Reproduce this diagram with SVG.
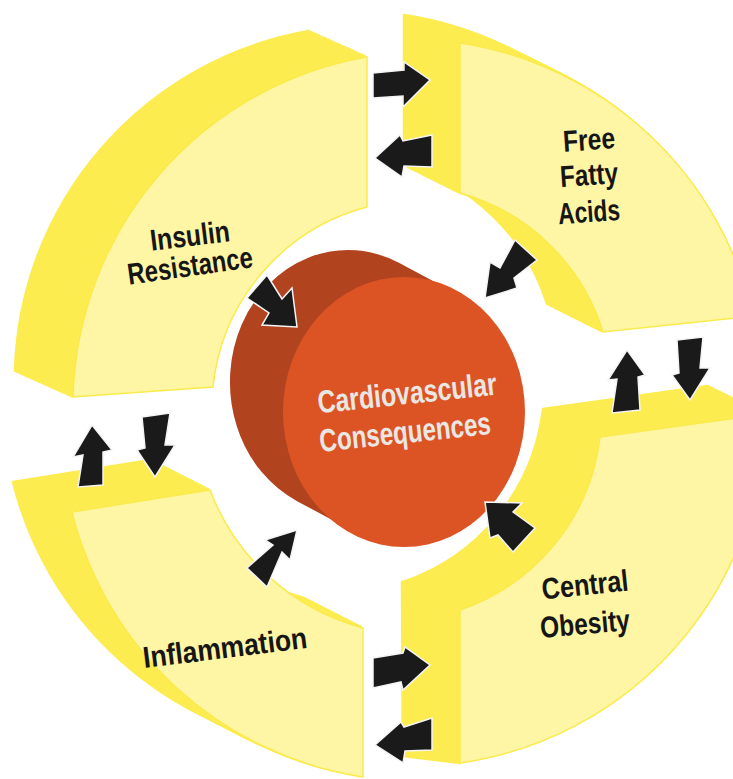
<svg xmlns="http://www.w3.org/2000/svg" xmlns:xlink="http://www.w3.org/1999/xlink" width="733" height="779" viewBox="0 0 733 779">
<style>
.side{fill:#FCEC50;stroke:#FCEC50;stroke-width:2.5;stroke-linejoin:round}
.front{fill:#FEF6A4;stroke:#FBEA4C;stroke-width:1.5}
.lbl{font-family:"Liberation Sans",Arial,sans-serif;font-weight:bold;font-size:30px;fill:#161616;text-anchor:middle}
.cv{font-family:"Liberation Sans",Arial,sans-serif;font-weight:bold;font-size:32px;fill:#EAE7E3;text-anchor:middle}
.arw{fill:#1A1A1A;stroke:#F4F4F4;stroke-width:1.5;stroke-linejoin:miter}
</style>
<defs>
<path id="pTL" d="M73,397 A355,355 0 0 1 367,57 L367,207 A208,208 0 0 0 213,387 Z"/>
<path id="pTR" d="M460,43 A355,355 0 0 1 753,316 L603,332 A208,208 0 0 0 460,193 Z"/>
<path id="pBR" d="M600,437 L765,414 A355,355 0 0 1 460,763 L460,610 A208,208 0 0 0 600,437 Z"/>
<path id="pBL" d="M72,512 L210,490 A225,225 0 0 0 363,628 L363,777 A355,355 0 0 1 72,512 Z"/>
</defs>
<rect width="733" height="779" fill="#FFFFFF"/>

<g id="node-insulin-resistance">
<g class="side">
<use xlink:href="#pTL" transform="translate(-2.42,-1.08)"/>
<use xlink:href="#pTL" transform="translate(-4.83,-2.17)"/>
<use xlink:href="#pTL" transform="translate(-7.25,-3.25)"/>
<use xlink:href="#pTL" transform="translate(-9.67,-4.33)"/>
<use xlink:href="#pTL" transform="translate(-12.08,-5.42)"/>
<use xlink:href="#pTL" transform="translate(-14.5,-6.5)"/>
<use xlink:href="#pTL" transform="translate(-16.92,-7.58)"/>
<use xlink:href="#pTL" transform="translate(-19.33,-8.67)"/>
<use xlink:href="#pTL" transform="translate(-21.75,-9.75)"/>
<use xlink:href="#pTL" transform="translate(-24.17,-10.83)"/>
<use xlink:href="#pTL" transform="translate(-26.58,-11.92)"/>
<use xlink:href="#pTL" transform="translate(-29,-13)"/>
<use xlink:href="#pTL" transform="translate(-31.42,-14.08)"/>
<use xlink:href="#pTL" transform="translate(-33.83,-15.17)"/>
<use xlink:href="#pTL" transform="translate(-36.25,-16.25)"/>
<use xlink:href="#pTL" transform="translate(-38.67,-17.33)"/>
<use xlink:href="#pTL" transform="translate(-41.08,-18.42)"/>
<use xlink:href="#pTL" transform="translate(-43.5,-19.5)"/>
<use xlink:href="#pTL" transform="translate(-45.92,-20.58)"/>
<use xlink:href="#pTL" transform="translate(-48.33,-21.67)"/>
<use xlink:href="#pTL" transform="translate(-50.75,-22.75)"/>
<use xlink:href="#pTL" transform="translate(-53.17,-23.83)"/>
<use xlink:href="#pTL" transform="translate(-55.58,-24.92)"/>
<use xlink:href="#pTL" transform="translate(-58,-26)"/>
</g>
<use xlink:href="#pTL" class="front"/>
<text class="lbl" x="190" y="246" textLength="80" lengthAdjust="spacingAndGlyphs" transform="rotate(-7 190 236)">Insulin</text>
<text class="lbl" x="190" y="276" textLength="126" lengthAdjust="spacingAndGlyphs" transform="rotate(-8 190 266)">Resistance</text>
</g>

<g id="node-free-fatty-acids">
<g class="side">
<use xlink:href="#pTR" transform="translate(-2.33,-1.17)"/>
<use xlink:href="#pTR" transform="translate(-4.67,-2.33)"/>
<use xlink:href="#pTR" transform="translate(-7,-3.5)"/>
<use xlink:href="#pTR" transform="translate(-9.33,-4.67)"/>
<use xlink:href="#pTR" transform="translate(-11.67,-5.83)"/>
<use xlink:href="#pTR" transform="translate(-14,-7)"/>
<use xlink:href="#pTR" transform="translate(-16.33,-8.17)"/>
<use xlink:href="#pTR" transform="translate(-18.67,-9.33)"/>
<use xlink:href="#pTR" transform="translate(-21,-10.5)"/>
<use xlink:href="#pTR" transform="translate(-23.33,-11.67)"/>
<use xlink:href="#pTR" transform="translate(-25.67,-12.83)"/>
<use xlink:href="#pTR" transform="translate(-28,-14)"/>
<use xlink:href="#pTR" transform="translate(-30.33,-15.17)"/>
<use xlink:href="#pTR" transform="translate(-32.67,-16.33)"/>
<use xlink:href="#pTR" transform="translate(-35,-17.5)"/>
<use xlink:href="#pTR" transform="translate(-37.33,-18.67)"/>
<use xlink:href="#pTR" transform="translate(-39.67,-19.83)"/>
<use xlink:href="#pTR" transform="translate(-42,-21)"/>
<use xlink:href="#pTR" transform="translate(-44.33,-22.17)"/>
<use xlink:href="#pTR" transform="translate(-46.67,-23.33)"/>
<use xlink:href="#pTR" transform="translate(-49,-24.5)"/>
<use xlink:href="#pTR" transform="translate(-51.33,-25.67)"/>
<use xlink:href="#pTR" transform="translate(-53.67,-26.83)"/>
<use xlink:href="#pTR" transform="translate(-56,-28)"/>
</g>
<use xlink:href="#pTR" class="front"/>
<text class="lbl" x="589" y="150" textLength="52" lengthAdjust="spacingAndGlyphs" transform="rotate(-4 589 140)">Free</text>
<text class="lbl" x="589" y="185" textLength="58" lengthAdjust="spacingAndGlyphs" transform="rotate(-4 589 175)">Fatty</text>
<text class="lbl" x="589" y="222" textLength="62" lengthAdjust="spacingAndGlyphs" transform="rotate(-4 589 212)">Acids</text>
</g>

<g id="node-central-obesity">
<g class="side">
<polygon points="402,582 460,610 460,763 403,756"/>
<use xlink:href="#pBR" transform="translate(-2.38,-1.17)"/>
<use xlink:href="#pBR" transform="translate(-4.75,-2.33)"/>
<use xlink:href="#pBR" transform="translate(-7.13,-3.5)"/>
<use xlink:href="#pBR" transform="translate(-9.5,-4.67)"/>
<use xlink:href="#pBR" transform="translate(-11.88,-5.83)"/>
<use xlink:href="#pBR" transform="translate(-14.25,-7)"/>
<use xlink:href="#pBR" transform="translate(-16.63,-8.17)"/>
<use xlink:href="#pBR" transform="translate(-19,-9.33)"/>
<use xlink:href="#pBR" transform="translate(-21.38,-10.5)"/>
<use xlink:href="#pBR" transform="translate(-23.75,-11.67)"/>
<use xlink:href="#pBR" transform="translate(-26.13,-12.83)"/>
<use xlink:href="#pBR" transform="translate(-28.5,-14)"/>
<use xlink:href="#pBR" transform="translate(-30.88,-15.17)"/>
<use xlink:href="#pBR" transform="translate(-33.25,-16.33)"/>
<use xlink:href="#pBR" transform="translate(-35.63,-17.5)"/>
<use xlink:href="#pBR" transform="translate(-38,-18.67)"/>
<use xlink:href="#pBR" transform="translate(-40.38,-19.83)"/>
<use xlink:href="#pBR" transform="translate(-42.75,-21)"/>
<use xlink:href="#pBR" transform="translate(-45.13,-22.17)"/>
<use xlink:href="#pBR" transform="translate(-47.5,-23.33)"/>
<use xlink:href="#pBR" transform="translate(-49.88,-24.5)"/>
<use xlink:href="#pBR" transform="translate(-52.25,-25.67)"/>
<use xlink:href="#pBR" transform="translate(-54.63,-26.83)"/>
<use xlink:href="#pBR" transform="translate(-57,-28)"/>
</g>
<use xlink:href="#pBR" class="front"/>
<text class="lbl" x="585" y="595" textLength="87" lengthAdjust="spacingAndGlyphs" transform="rotate(-6 585 585)">Central</text>
<text class="lbl" x="585" y="634" textLength="90" lengthAdjust="spacingAndGlyphs" transform="rotate(-5 585 624)">Obesity</text>
</g>

<g id="node-inflammation">
<g class="side">
<use xlink:href="#pBL" transform="translate(-2.46,-1.25)"/>
<use xlink:href="#pBL" transform="translate(-4.92,-2.5)"/>
<use xlink:href="#pBL" transform="translate(-7.38,-3.75)"/>
<use xlink:href="#pBL" transform="translate(-9.83,-5)"/>
<use xlink:href="#pBL" transform="translate(-12.29,-6.25)"/>
<use xlink:href="#pBL" transform="translate(-14.75,-7.5)"/>
<use xlink:href="#pBL" transform="translate(-17.21,-8.75)"/>
<use xlink:href="#pBL" transform="translate(-19.67,-10)"/>
<use xlink:href="#pBL" transform="translate(-22.13,-11.25)"/>
<use xlink:href="#pBL" transform="translate(-24.58,-12.5)"/>
<use xlink:href="#pBL" transform="translate(-27.04,-13.75)"/>
<use xlink:href="#pBL" transform="translate(-29.5,-15)"/>
<use xlink:href="#pBL" transform="translate(-31.96,-16.25)"/>
<use xlink:href="#pBL" transform="translate(-34.42,-17.5)"/>
<use xlink:href="#pBL" transform="translate(-36.88,-18.75)"/>
<use xlink:href="#pBL" transform="translate(-39.33,-20)"/>
<use xlink:href="#pBL" transform="translate(-41.79,-21.25)"/>
<use xlink:href="#pBL" transform="translate(-44.25,-22.5)"/>
<use xlink:href="#pBL" transform="translate(-46.71,-23.75)"/>
<use xlink:href="#pBL" transform="translate(-49.17,-25)"/>
<use xlink:href="#pBL" transform="translate(-51.63,-26.25)"/>
<use xlink:href="#pBL" transform="translate(-54.08,-27.5)"/>
<use xlink:href="#pBL" transform="translate(-56.54,-28.75)"/>
<use xlink:href="#pBL" transform="translate(-59,-30)"/>
</g>
<use xlink:href="#pBL" class="front"/>
<text class="lbl" x="225" y="658" textLength="165" lengthAdjust="spacingAndGlyphs" transform="rotate(-7 225 648)">Inflammation</text>
</g>

<g id="node-cardiovascular-consequences">
<path d="M456.3,290.2 L400.3,260.2 A121,135 0 1 0 295.7,503.8 L351.7,533.8 A121,135 0 1 0 456.3,290.2 Z" fill="#B2431F" stroke="#FFFFFF" stroke-width="6" stroke-linejoin="round"/>
<ellipse cx="404" cy="412" rx="121" ry="135" fill="#DC5324"/>
<text class="cv" x="407" y="404" textLength="180" lengthAdjust="spacingAndGlyphs" transform="rotate(-6 407 393)">Cardiovascular</text>
<text class="cv" x="405" y="443" textLength="172" lengthAdjust="spacingAndGlyphs" transform="rotate(-6 405 432)">Consequences</text>
</g>

<g id="connectors">
<polygon class="arw" points="373,73 404,70 404,62 430,80 403,107 403,96 373,98"/>
<polygon class="arw" points="375,158 400,135 403,141 432,135 432,167 404,166 402,177"/>
<polygon class="arw" points="267,275 282,299 292,288 297,327 262,325 269,313 247,298"/>
<polygon class="arw" points="515,240 537,260 514,278 517,288 485,298 490,262 500,268"/>
<polygon class="arw" points="627,350 645,375 638,377 640,410 612,413 617,379 608,380"/>
<polygon class="arw" points="677,340 703,337 700,368 710,368 690,400 672,375 679,373"/>
<polygon class="arw" points="92,425 112,450 103,452 103,485 78,487 83,455 73,457"/>
<polygon class="arw" points="142,417 170,413 165,445 175,445 155,477 137,450 145,448"/>
<polygon class="arw" points="297,530 290,560 282,552 267,587 247,568 273,545 265,540"/>
<polygon class="arw" points="485,502 522,503 513,512 535,528 513,552 498,535 490,538"/>
<polygon class="arw" points="373,658 403,653 405,647 430,665 403,690 401,682 373,688"/>
<polygon class="arw" points="375,745 401,722 404,727 432,718 432,750 405,751 403,763"/>
</g>
</svg>
